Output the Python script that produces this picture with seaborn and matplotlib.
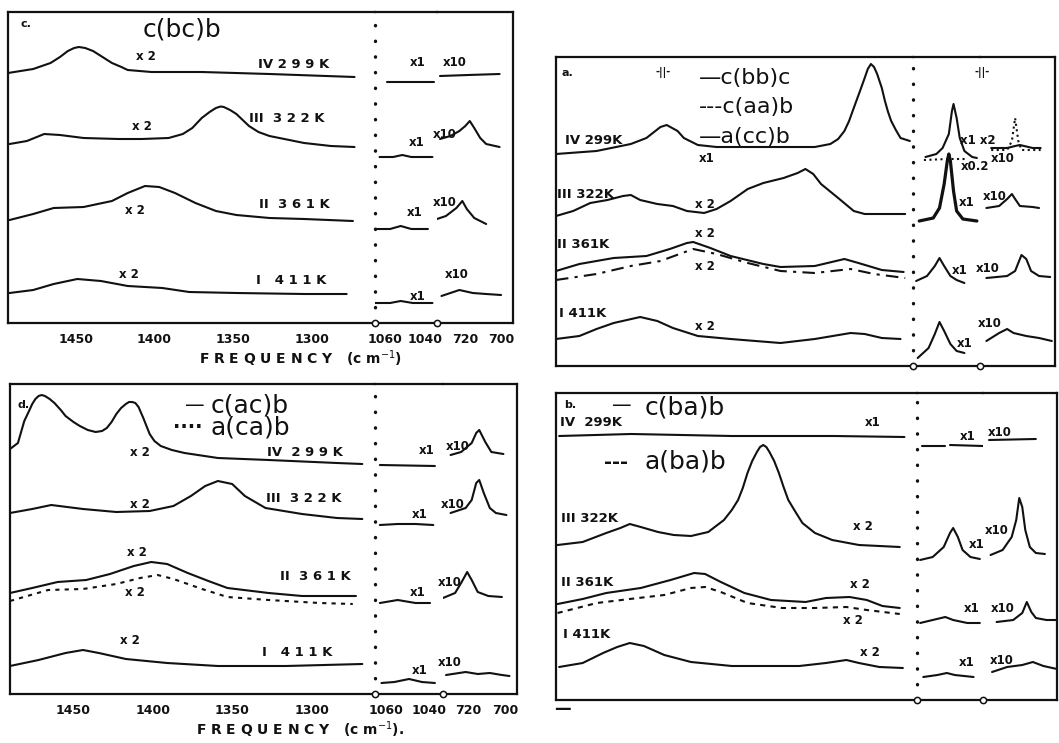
import matplotlib
matplotlib.use("Agg")
import matplotlib.pyplot as plt
import matplotlib.transforms as mtransforms
import seaborn as sns

# ---------------- panel c : c(bc)b ----------------
c4_f = [1493, 1477, 1466, 1460, 1455, 1451, 1448, 1444, 1439, 1433, 1427, 1421, 1417, 1402, 1370, 1327, 1273]
c4_y = [250, 254, 260, 266, 272, 275, 276, 275, 272, 266, 260, 256, 253, 251, 251, 249, 246]
c3_f = [1492, 1481, 1470, 1460, 1445, 1423, 1408, 1391, 1382, 1376, 1370, 1365, 1361, 1358, 1356, 1352, 1348, 1344, 1340, 1334, 1327, 1305, 1288, 1273]
c3_y = [179, 182, 189, 188, 185, 184, 184, 185, 189, 195, 205, 211, 215, 216.5, 216, 213, 209, 203, 197, 191, 187, 180, 177, 176]
c2_f = [1492, 1477, 1464, 1445, 1427, 1417, 1406, 1397, 1387, 1374, 1361, 1348, 1327, 1305, 1274]
c2_y = [103, 109, 115, 116, 122, 130, 137, 136, 130, 120, 112, 108, 105, 104, 102]
c1_f = [1492, 1477, 1464, 1449, 1434, 1417, 1395, 1378, 1348, 1305, 1278]
c1_y = [30, 33, 39, 44, 42, 37, 35, 31, 30, 29, 29]
c4m_f = [1062, 1031]
c4m_y = [241, 241]
c3m_f = [1067, 1058, 1052, 1046, 1032]
c3m_y = [166, 166, 168, 166, 166]
c2m_f = [1070, 1060, 1053, 1046, 1035]
c2m_y = [94, 94, 97, 94, 94]
c1m_f = [1070, 1060, 1053, 1045, 1032]
c1m_y = [20, 20, 22, 20, 20]
c4r_f = [739, 720, 699]
c4r_y = [247, 248, 249]
c3r_f = [739, 732, 726, 722, 719, 716, 712, 708, 699]
c3r_y = [184, 187, 192, 197, 202, 195, 185, 179, 176]
c2r_f = [741, 735, 728, 724, 721, 716, 708]
c2r_y = [104, 107, 115, 122, 114, 105, 99]
c1r_f = [738, 726, 717, 708, 698]
c1r_y = [27, 33, 30, 29, 28]

# ---------------- panel a : c(bb)c, c(aa)b, a(cc)b ----------------
a4_f = [1489, 1463, 1441, 1431, 1422, 1418, 1411, 1407, 1398, 1386, 1356, 1323, 1313, 1308, 1304, 1301, 1298, 1294, 1291, 1289, 1287, 1285, 1283, 1280, 1278, 1276, 1274, 1271, 1268, 1262]
a4_y = [212, 215, 222, 228, 239, 241, 235, 228, 221, 219, 219, 219, 222, 227, 235, 245, 258, 275, 288, 297, 302, 299, 292, 278, 265, 254, 245, 236, 228, 225]
a3_f = [1489, 1478, 1467, 1456, 1446, 1441, 1435, 1424, 1414, 1405, 1394, 1386, 1377, 1366, 1356, 1343, 1334, 1329, 1324, 1319, 1308, 1298, 1291, 1265]
a3_y = [150, 155, 163, 166, 170, 171, 166, 162, 160, 155, 153, 157, 165, 177, 183, 188, 193, 197, 192, 182, 168, 155, 152, 152]
a2_f = [1489, 1474, 1452, 1431, 1416, 1405, 1401, 1390, 1377, 1356, 1345, 1323, 1304, 1295, 1280, 1266]
a2_y = [95, 102, 108, 110, 117, 123, 124, 118, 110, 102, 99, 100, 107, 103, 96, 94]
a2d_f = [1489, 1463, 1441, 1422, 1401, 1386, 1366, 1345, 1323, 1300, 1285, 1265]
a2d_y = [86, 92, 100, 105, 117, 112, 103, 95, 93, 97, 92, 88]
a1_f = [1489, 1474, 1463, 1452, 1435, 1424, 1414, 1398, 1377, 1345, 1323, 1300, 1291, 1280, 1268]
a1_y = [27, 30, 37, 43, 49, 45, 38, 30, 27, 23, 27, 33, 32, 28, 27]
a4m_f = [1062, 1055, 1051, 1047, 1045, 1044, 1042, 1040, 1037, 1032, 1029]
a4m_y = [209, 212, 218, 232, 255, 262, 248, 228, 215, 209, 208]
a4md_f = [1063, 1048, 1035]
a4md_y = [206, 207, 207]
a3m_f = [1066, 1057, 1053, 1050, 1048, 1047, 1046, 1044, 1042, 1038, 1029]
a3m_y = [145, 148, 158, 182, 205, 212, 205, 175, 155, 147, 145]
a2m_f = [1068, 1061, 1056, 1053, 1050, 1046, 1042, 1037]
a2m_y = [85, 90, 100, 108, 100, 90, 86, 83]
a1m_f = [1067, 1060, 1056, 1053, 1050, 1046, 1042, 1037]
a1m_y = [8, 18, 32, 44, 35, 22, 15, 13]
a4r_f = [728, 718, 713, 710, 702, 697]
a4r_y = [218, 218, 220, 221, 218, 218]
a4rd_f = [728, 718, 715, 713, 711, 709, 697]
a4rd_y = [216, 216, 225, 248, 225, 216, 216]
a3r_f = [731, 723, 718, 715, 713, 710, 702, 698]
a3r_y = [158, 160, 167, 172, 167, 160, 159, 158]
a2r_f = [731, 718, 713, 709, 706, 703, 698, 691]
a2r_y = [88, 90, 95, 111, 107, 95, 90, 89]
a1r_f = [731, 723, 718, 714, 706, 698, 690]
a1r_y = [25, 33, 37, 33, 30, 28, 25]

# ---------------- panel d : c(ac)b, a(ca)b ----------------
d4_f = [1490, 1485, 1483, 1481, 1478, 1476, 1474, 1472, 1470, 1468, 1465, 1462, 1458, 1455, 1450, 1446, 1441, 1436,
        1432, 1429, 1426, 1423, 1420, 1417, 1415, 1413, 1411, 1409, 1406, 1404, 1402, 1399, 1395, 1388, 1380, 1359,
        1327, 1284, 1268]
d4_y = [245, 251, 262, 273, 283, 290, 295, 298, 299, 298, 295, 291, 284, 278, 272, 268, 264, 262,
        263, 266, 272, 280, 286, 290, 292, 292, 291, 287, 276, 268, 260, 253, 248, 244, 241, 236,
        234, 231, 230]
d3_f = [1490, 1476, 1464, 1444, 1423, 1402, 1387, 1376, 1367, 1359, 1350, 1342, 1329, 1306, 1284, 1268]
d3_y = [181, 185, 189, 185, 182, 183, 188, 198, 208, 213, 210, 198, 186, 180, 176, 175]
d2_f = [1490, 1476, 1460, 1442, 1427, 1412, 1401, 1391, 1378, 1365, 1353, 1327, 1306, 1272]
d2_y = [101, 106, 112, 114, 120, 128, 132, 130, 121, 113, 106, 101, 98, 98]
d2d_f = [1490, 1466, 1444, 1423, 1408, 1397, 1387, 1369, 1353, 1327, 1295, 1274]
d2d_y = [93, 104, 105, 110, 116, 119, 115, 105, 97, 94, 91, 90]
d1_f = [1490, 1472, 1455, 1444, 1434, 1417, 1391, 1359, 1316, 1268]
d1_y = [28, 34, 41, 44, 41, 35, 31, 28, 28, 30]
d4m_f = [1067, 1033]
d4m_y = [229, 228]
d3m_f = [1067, 1056, 1045, 1034]
d3m_y = [169, 170, 170, 169]
d2m_f = [1067, 1056, 1045, 1036]
d2m_y = [91, 94, 91, 91]
d1m_f = [1066, 1058, 1049, 1041, 1033]
d1m_y = [11, 12, 15, 12, 11]
d4r_f = [734, 727, 720, 717, 715, 711, 707, 699]
d4r_y = [239, 242, 251, 261, 264, 252, 242, 240]
d3r_f = [734, 724, 720, 717, 715, 712, 708, 704, 697]
d3r_y = [181, 186, 194, 211, 214, 201, 186, 181, 179]
d2r_f = [739, 731, 727, 723, 720, 716, 709, 700]
d2r_y = [96, 101, 111, 122, 114, 102, 98, 97]
d1r_f = [737, 724, 716, 708, 700, 695]
d1r_y = [19, 22, 20, 21, 19, 18]

# ---------------- panel b : c(ba)b, a(ba)b ----------------
b4_f = [1487, 1441, 1377, 1312, 1267]
b4_y = [264, 266, 264, 264, 263]
b3_f = [1488, 1472, 1457, 1448, 1442, 1435, 1424, 1414, 1403, 1392, 1382, 1377, 1373, 1370, 1367, 1364, 1361, 1359,
        1357, 1355, 1353, 1350, 1347, 1344, 1341, 1336, 1332, 1324, 1313, 1296, 1270]
b3_y = [155, 158, 167, 172, 176, 173, 168, 165, 164, 168, 180, 190, 200, 212, 227, 239, 248, 253,
        255, 253, 248, 239, 227, 213, 200, 187, 177, 167, 160, 155, 153]
b2_f = [1488, 1472, 1457, 1435, 1416, 1401, 1394, 1384, 1369, 1352, 1330, 1317, 1302, 1291, 1281, 1270]
b2_y = [96, 101, 107, 112, 120, 127, 126, 118, 107, 100, 98, 102, 103, 100, 94, 92]
b2d_f = [1488, 1463, 1442, 1420, 1403, 1394, 1384, 1367, 1345, 1324, 1304, 1291, 1270]
b2d_y = [87, 97, 101, 105, 112, 113, 108, 97, 92, 92, 93, 90, 86]
b1_f = [1487, 1472, 1459, 1450, 1442, 1433, 1420, 1403, 1377, 1334, 1317, 1304, 1296, 1283, 1268]
b1_y = [33, 37, 47, 53, 57, 54, 45, 38, 34, 34, 37, 40, 37, 33, 32]
b4m1_f = [1067, 1052]
b4m1_y = [254, 254]
b4m2_f = [1049, 1028]
b4m2_y = [255, 254]
b3m_f = [1068, 1060, 1053, 1049, 1047, 1044, 1041, 1036, 1030]
b3m_y = [140, 143, 153, 167, 172, 163, 150, 143, 141]
b2m_f = [1068, 1060, 1052, 1047, 1038, 1030]
b2m_y = [77, 80, 83, 80, 77, 77]
b1m_f = [1066, 1057, 1051, 1046, 1034]
b1m_y = [23, 25, 27, 25, 23]
b4r_f = [735, 704]
b4r_y = [260, 261]
b3r_f = [734, 726, 720, 717, 715, 713, 711, 708, 704, 698]
b3r_y = [145, 150, 163, 180, 202, 193, 170, 153, 147, 146]
b2r_f = [730, 719, 713, 710, 707, 704, 697, 690]
b2r_y = [78, 80, 87, 98, 88, 82, 80, 80]
b1r_f = [733, 723, 713, 706, 699, 690]
b1r_y = [28, 33, 35, 38, 34, 31]

main_ticks = [1450, 1400, 1350, 1300]
main_labels = ["1450", "1400", "1350", "1300"]
mid_ticks = [1060, 1050, 1040]
mid_labels = ["1060", "", "1040"]
right_ticks = [730, 720, 710, 700]
right_labels = ["", "720", "", "700"]

sns.set_style("white")
plt.rcParams["font.family"] = ["DejaVu Sans"]

W, H = 1059, 743
fig = plt.figure(figsize=(W / 100, H / 100), dpi=100)


def rect(l, t, r, b):
    return [l / W, 1 - b / H, (r - l) / W, (b - t) / H]


def put(x, y, s, size=9, ha="center", weight="bold", **kw):
    fig.text(x / W, 1 - y / H, s, fontsize=size, ha=ha, va="center",
             fontweight=weight, color="#111111", **kw)


def line(ax, f, y, ls="-", lw=1.5):
    sns.lineplot(x=f, y=y, ax=ax, color="#111111", lw=lw, linestyle=ls,
                 sort=False, estimator=None, solid_joinstyle="round")


def shift_labels(ax, offsets):
    for lab, dx in zip(ax.get_xticklabels(), offsets):
        lab.set_transform(lab.get_transform() +
                          mtransforms.ScaledTranslation(dx / 100, 0, fig.dpi_scale_trans))


def panel(l, t, d, b, r, bot, lims, show_labels):
    h = bot - t
    axm = fig.add_axes(rect(l, t, d, bot))
    axc = fig.add_axes(rect(d, t, b, bot))
    axr = fig.add_axes(rect(b, t, r, bot))
    ticks = [(main_ticks, main_labels), (mid_ticks, mid_labels), (right_ticks, right_labels)]
    for ax, lim, (tk, tl) in zip((axm, axc, axr), lims, ticks):
        ax.set_xlim(*lim)
        ax.set_ylim(0, h)
        ax.set_yticks([])
        ax.set_facecolor("none")
        for s in ax.spines.values():
            s.set_linewidth(1.6)
            s.set_color("#111111")
        ax.set_xticks(tk)
        ax.set_xticklabels(tl if show_labels else [""] * len(tk), fontweight="bold")
        ax.tick_params(axis="x", direction="in", length=4, width=1.1,
                       labelsize=9, pad=7, colors="#111111")
    axm.spines["right"].set_visible(False)
    axc.spines["right"].set_visible(False)
    # dotted divider between the main range and the 1060/1040 range
    axc.spines["left"].set_linestyle((0, (0.1, 4.6)))
    axc.spines["left"].set_linewidth(2.4)
    axc.spines["left"].set_capstyle("round")
    axr.spines["left"].set_visible(False)
    for ax in (axc, axr):
        ax.plot([0], [0], "o", transform=ax.transAxes, ms=4.5, mfc="white",
                mec="#111111", mew=1.1, clip_on=False, zorder=5)
    if show_labels:
        shift_labels(axc, [-5, 0, 5])
        shift_labels(axr, [0, -3, 0, 3])
    return axm, axc, axr


# panel c
cm, cc, cr = panel(8, 12, 375, 437, 513, 323,
                   [(1493, 1260), (1070, 1029), (741, 690)], True)
for f, y in [(c4_f, c4_y), (c3_f, c3_y), (c2_f, c2_y), (c1_f, c1_y)]:
    line(cm, f, y)
for f, y in [(c4m_f, c4m_y), (c3m_f, c3m_y), (c2m_f, c2m_y), (c1m_f, c1m_y)]:
    line(cc, f, y)
for f, y in [(c4r_f, c4r_y), (c3r_f, c3r_y), (c2r_f, c2r_y), (c1r_f, c1r_y)]:
    line(cr, f, y)

# panel a
am, ac, ar = panel(556, 57, 913, 980, 1055, 366,
                   [(1489, 1260), (1070, 1027), (735, 688)], False)
for f, y in [(a4_f, a4_y), (a3_f, a3_y), (a2_f, a2_y), (a1_f, a1_y)]:
    line(am, f, y)
line(am, a2d_f, a2d_y, ls=(0, (6, 3, 1.5, 3)))
for f, y in [(a4m_f, a4m_y), (a2m_f, a2m_y), (a1m_f, a1m_y)]:
    line(ac, f, y)
line(ac, a3m_f, a3m_y, lw=2.3)
line(ac, a4md_f, a4md_y, ls=":")
for f, y in [(a4r_f, a4r_y), (a3r_f, a3r_y), (a2r_f, a2r_y), (a1r_f, a1r_y)]:
    line(ar, f, y)
line(ar, a4rd_f, a4rd_y, ls=":")

# panel d
dm, dc, dr = panel(10, 384, 375, 443, 517, 694,
                   [(1490, 1260), (1070, 1028), (739, 690)], True)
for f, y in [(d4_f, d4_y), (d3_f, d3_y), (d2_f, d2_y), (d1_f, d1_y)]:
    line(dm, f, y)
line(dm, d2d_f, d2d_y, ls=(0, (2, 2.5)))
for f, y in [(d4m_f, d4m_y), (d3m_f, d3m_y), (d2m_f, d2m_y), (d1m_f, d1m_y)]:
    line(dc, f, y)
for f, y in [(d4r_f, d4r_y), (d3r_f, d3r_y), (d2r_f, d2r_y), (d1r_f, d1r_y)]:
    line(dr, f, y)

# panel b
bm, bc, br = panel(556, 393, 917, 983, 1057, 700,
                   [(1489, 1259), (1070, 1028), (739, 690)], False)
for f, y in [(b4_f, b4_y), (b3_f, b3_y), (b2_f, b2_y), (b1_f, b1_y)]:
    line(bm, f, y)
line(bm, b2d_f, b2d_y, ls=(0, (2.5, 2.5)))
for f, y in [(b4m1_f, b4m1_y), (b4m2_f, b4m2_y), (b3m_f, b3m_y), (b2m_f, b2m_y), (b1m_f, b1m_y)]:
    line(bc, f, y)
for f, y in [(b4r_f, b4r_y), (b3r_f, b3r_y), (b2r_f, b2r_y), (b1r_f, b1r_y)]:
    line(br, f, y)

# ---- texts, panel c ----
put(26, 24, "c.", 8)
put(182, 29, "c(bc)b", 18, weight="normal")
for x, y, s in [(146, 56, "x 2"), (142, 127, "x 2"), (135, 210, "x 2"), (129, 275, "x 2"),
                (418, 63, "x1"), (455, 62, "x10"), (417, 142, "x1"), (445, 135, "x10"),
                (415, 213, "x1"), (445, 203, "x10"), (418, 297, "x1"), (457, 275, "x10")]:
    put(x, y, s, 8.5)
for x, y, s in [(294, 64, "IV 2 9 9 K"), (287, 118, "III  3 2 2 K"),
                (294, 205, "II  3 6 1 K"), (291, 281, "I   4 1 1 K")]:
    put(x, y, s, 9.5)
put(300, 359, "F R E Q U E N C Y   (c m$^{-1}$)", 10)

# ---- texts, panel a ----
put(567, 73, "a.", 8)
put(663, 72, "-||-", 7)
put(982, 73, "-||-", 7)
put(699, 78, "\u2014c(bb)c", 16, ha="left", weight="normal")
put(699, 107, "---c(aa)b", 16, ha="left", weight="normal")
put(699, 137, "\u2014a(cc)b", 16, ha="left", weight="normal")
for x, y, s in [(565, 140, "IV 299K"), (557, 195, "III 322K"), (557, 245, "II 361K"), (559, 313, "I 411K")]:
    put(x, y, s, 9.5, ha="left")
for x, y, s in [(707, 158, "x1"), (705, 205, "x 2"), (705, 234, "x 2"), (705, 267, "x 2"), (705, 326, "x 2"),
                (978, 140, "x1 x2"), (975, 167, "x0.2"), (1003, 158, "x10"),
                (967, 203, "x1"), (995, 197, "x10"), (960, 270, "x1"), (988, 268, "x10"),
                (965, 343, "x1"), (990, 323, "x10")]:
    put(x, y, s, 8.5)

# ---- texts, panel d ----
put(24, 405, "d.", 8)
put(195, 405, "\u2014", 14, weight="normal")
put(211, 405, "c(ac)b", 18, ha="left", weight="normal")
put(188, 428, "\u00b7\u00b7\u00b7\u00b7", 14)
put(211, 428, "a(ca)b", 18, ha="left", weight="normal")
for x, y, s in [(140, 452, "x 2"), (140, 505, "x 2"), (137, 553, "x 2"), (135, 592, "x 2"), (130, 640, "x 2"),
                (427, 450, "x1"), (458, 447, "x10"), (420, 515, "x1"), (453, 505, "x10"),
                (418, 592, "x1"), (450, 583, "x10"), (420, 670, "x1"), (450, 662, "x10")]:
    put(x, y, s, 8.5)
for x, y, s in [(305, 452, "IV  2 9 9 K"), (304, 498, "III  3 2 2 K"),
                (315, 577, "II  3 6 1 K"), (297, 652, "I   4 1 1 K")]:
    put(x, y, s, 9.5)
put(300, 730, "F R E Q U E N C Y   (c m$^{-1}$).", 10)

# ---- texts, panel b ----
put(570, 405, "b.", 8)
put(622, 406, "\u2014", 14, weight="normal")
put(645, 407, "c(ba)b", 18, ha="left", weight="normal")
put(616, 462, "---", 14)
put(645, 462, "a(ba)b", 18, ha="left", weight="normal")
for x, y, s in [(560, 422, "IV  299K"), (561, 518, "III 322K"), (561, 583, "II 361K"), (563, 635, "I 411K")]:
    put(x, y, s, 9.5, ha="left")
for x, y, s in [(873, 422, "x1"), (968, 437, "x1"), (1000, 433, "x10"),
                (863, 527, "x 2"), (977, 545, "x1"), (997, 530, "x10"),
                (860, 585, "x 2"), (853, 620, "x 2"), (972, 608, "x1"), (1003, 608, "x10"),
                (870, 653, "x 2"), (967, 663, "x1"), (1002, 660, "x10")]:
    put(x, y, s, 8.5)
put(562, 709, "\u2014", 12)

fig.savefig("out.png", dpi=100, facecolor="white")
